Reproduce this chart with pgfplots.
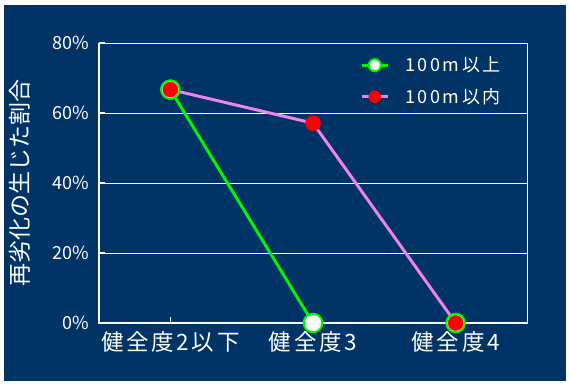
\documentclass[border=0pt]{standalone}
\usepackage{pgfplots}
\pgfplotsset{compat=1.18}
\usetikzlibrary{backgrounds}
\usepackage{fontspec}
\setmainfont{Noto Sans CJK JP}
\definecolor{navy}{RGB}{0,51,102}
\definecolor{lgreen}{RGB}{0,245,0}
\definecolor{pinkl}{RGB}{238,130,238}
\begin{document}
\begin{tikzpicture}
\begin{axis}[
 name=ax,
 scale only axis, width=428pt, height=280pt,
 xmin=-0.5, xmax=2.5, ymin=0, ymax=80,
 xtick={0,1,2}, xticklabels={健全度2以下,健全度3,健全度4},
 ytick={0,20,40,60,80},
 yticklabel={\pgfmathprintnumber{\tick}\%},
 /pgf/number format/assume math mode=true,
 xtick pos=bottom, ytick pos=left,
 tick align=inside,
 major tick length=6pt,
 tick style={white, line width=1.2pt},
 axis line style={white, line width=1pt},
 ymajorgrids, grid style={white, line width=0.8pt},
 ticklabel style={text=white},
 yticklabel style={font=\fontsize{18}{18}\selectfont, xshift=-6pt},
 xticklabel style={font=\fontsize{22.5}{22.5}\selectfont\addfontfeatures{LetterSpace=12}, yshift=-5pt},
 ylabel={再劣化の生じた割合},
 ylabel style={text=white, font=\fontsize{23}{23}\selectfont, at={(axis description cs:-0.185,0.5)}, anchor=center},
 legend style={at={(rel axis cs:0.603,0.965)}, anchor=north west, draw=none, fill=none, text=white,
   font=\fontsize{18}{18}\selectfont\addfontfeatures{LetterSpace=14}, row sep=11pt, column sep=14pt},
 legend cell align=left,
 legend image code/.code={\draw[#1, mark=none] (0pt,0pt) -- (26pt,0pt);
   \draw[#1, only marks, mark size=6pt] plot coordinates {(13pt,0pt)};},
]
\draw[white, line width=2.7pt] (rel axis cs:0,1) -- (rel axis cs:0,0) -- (rel axis cs:1,0);
\addplot[lgreen, line width=3pt, mark=*, mark size=9.3pt, mark options={fill=white, draw=lgreen, line width=2pt}]
 coordinates {(0,66.7) (1,0)};
\addlegendentry{100m以上}
\addplot[forget plot, only marks, mark=*, mark size=9.3pt, mark options={fill=white, draw=lgreen, line width=2pt}]
 coordinates {(2,0)};
\addplot[pinkl, line width=3pt, mark=*, mark size=7.5pt, mark options={fill=red, draw=red, line width=0.5pt}]
 coordinates {(0,66.7) (1,57.1) (2,0)};
\addlegendentry{100m以内}
\end{axis}
\begin{scope}[on background layer]
\fill[white] ([xshift=-99pt,yshift=-60pt]ax.south west) rectangle ([xshift=470pt,yshift=323pt]ax.south west);
\fill[navy] ([xshift=-95pt,yshift=-58pt]ax.south west) rectangle ([xshift=467pt,yshift=318pt]ax.south west);
\end{scope}
\end{tikzpicture}
\end{document}
